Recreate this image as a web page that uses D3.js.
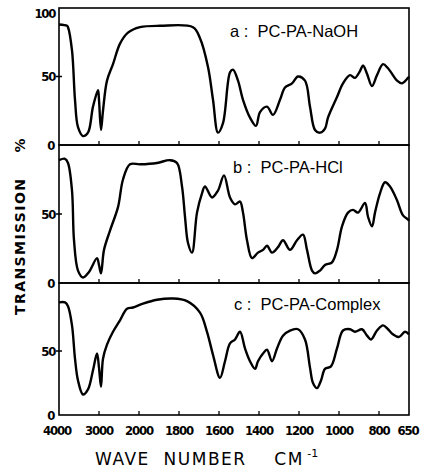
<!DOCTYPE html>
<html>
<head>
<meta charset="utf-8">
<script src="https://cdn.jsdelivr.net/npm/d3@7"></script>
<style>
  body { margin: 0; background: #fff; }
  svg { display: block; }
</style>
</head>
<body>
<svg id="chart"></svg>
<script>
// wave number ticks (cm-1) and transmission spectra
var xTicks = [4000, 3000, 2000, 1800, 1600, 1400, 1200, 1000, 800, 650];

var waveA = [4000, 3800, 3775, 3675, 3600, 3525, 3400, 3275, 3150, 3025, 3000, 2950, 2900, 2800, 2650, 2475, 2275, 1995, 1895, 1730, 1695, 1655, 1630, 1605, 1580, 1545, 1530, 1505, 1480, 1445, 1415, 1395, 1360, 1330, 1295, 1270, 1235, 1205, 1170, 1145, 1120, 1095, 1070, 1055, 1010, 980, 945, 920, 895, 880, 860, 835, 810, 780, 755, 710, 685, 655, 650];
var transA = [88, 87, 86, 69, 33, 13, 6.5, 9, 28, 40, 33, 11, 25, 47, 59, 74, 82, 86, 87, 86, 78, 57, 33, 9, 16, 53, 55, 47, 33, 20, 14, 24, 28, 22, 33, 42, 45, 50, 47, 28, 11, 9, 12, 20, 35, 45, 51, 49, 54, 58, 52, 43, 51, 59, 56, 47, 45, 49, 50];

var waveB = [4000, 3850, 3775, 3675, 3625, 3525, 3400, 3250, 3050, 3000, 2950, 2875, 2725, 2525, 2400, 2225, 1995, 1910, 1845, 1810, 1785, 1770, 1755, 1735, 1710, 1685, 1670, 1635, 1605, 1575, 1545, 1520, 1495, 1480, 1460, 1435, 1405, 1380, 1360, 1335, 1305, 1280, 1245, 1210, 1180, 1160, 1135, 1120, 1095, 1070, 1035, 1010, 985, 955, 930, 905, 870, 855, 835, 820, 795, 770, 745, 710, 680, 655, 650];
var transB = [89, 90, 87, 67, 31, 9, 4, 8, 18, 13, 7, 24, 38, 55, 75, 86, 86, 87, 89, 87, 70, 48, 29, 22, 51, 65, 70, 62, 67, 78, 62, 57, 59, 51, 31, 18, 22, 24, 27, 22, 26, 31, 24, 31, 35, 24, 9, 7, 9, 13, 15, 24, 41, 51, 53, 51, 58, 48, 41, 51, 65, 73, 70, 60, 49, 46, 45];

var waveC = [4000, 3850, 3775, 3675, 3600, 3525, 3400, 3275, 3150, 3050, 3000, 2950, 2900, 2800, 2650, 2475, 2300, 2150, 1980, 1910, 1830, 1760, 1695, 1660, 1630, 1595, 1570, 1545, 1520, 1495, 1470, 1445, 1420, 1405, 1380, 1360, 1335, 1310, 1280, 1245, 1205, 1170, 1145, 1130, 1110, 1090, 1070, 1040, 1010, 980, 945, 920, 885, 860, 840, 810, 780, 755, 730, 700, 670, 650];
var transC = [88, 88, 85, 70, 44, 27, 16, 20, 35, 48, 37, 22, 44, 55, 65, 74, 83, 84, 87, 90, 91, 89, 80, 65, 47, 29, 42, 56, 59, 65, 52, 42, 36, 42, 48, 51, 42, 52, 62, 66, 67, 59, 37, 25, 21, 27, 36, 38, 52, 66, 67, 65, 67, 62, 59, 66, 70, 67, 63, 61, 65, 63];

var panelNames = ["a :  PC-PA-NaOH", "b :  PC-PA-HCl", "c :  PC-PA-Complex"];

const W = 423, H = 469;
const left = 59, right = 409;

const svg = d3.select("#chart")
  .attr("width", W)
  .attr("height", H)
  .style("background", "#fff");

// IR charts switch scale at 2000 cm-1
const x = d3.scaleLinear()
  .domain([4000, 2000, 650])
  .range([left, 139, right]);

var panels = [
  { wave: waveA, trans: transA, top: 8, y0: 145, y100: 8, name: panelNames[0], lx: 230, ly: 37 },
  { wave: waveB, trans: transB, top: 145, y0: 283, y100: 145, name: panelNames[1], lx: 233, ly: 173 },
  { wave: waveC, trans: transC, top: 283, y0: 415, y100: 287, name: panelNames[2], lx: 234, ly: 310 }
];

const tickFont = "'DejaVu Sans Condensed', 'DejaVu Sans', sans-serif";

panels.forEach(function (p, k) {
  var y = d3.scaleLinear().domain([0, 100]).range([p.y0, p.y100]);
  var g = svg.append("g");

  // frame
  g.append("rect")
    .attr("x", left)
    .attr("y", p.top)
    .attr("width", right - left)
    .attr("height", p.y0 - p.top)
    .attr("fill", "none")
    .attr("stroke", "#000")
    .attr("stroke-width", 1.6);

  // bottom ticks pointing inward
  g.selectAll("line.xt")
    .data(xTicks.slice(1, -1))
    .enter().append("line")
    .attr("class", "xt")
    .attr("x1", d => x(d)).attr("x2", d => x(d))
    .attr("y1", p.y0).attr("y2", p.y0 - 4)
    .attr("stroke", "#000")
    .attr("stroke-width", 1.3);

  // y tick at 50
  g.append("line")
    .attr("x1", left - 3).attr("x2", left + 3)
    .attr("y1", y(50)).attr("y2", y(50))
    .attr("stroke", "#000")
    .attr("stroke-width", 1.5);

  var yLabels = k == 0 ? [100, 50, 0] : [50, 0];
  g.selectAll("text.yl")
    .data(yLabels)
    .enter().append("text")
    .attr("class", "yl")
    .attr("x", d => d == 0 ? 54 : 55)
    .attr("y", d => (d == 100 ? 13 : y(d)) + 4.5)
    .attr("text-anchor", "end")
    .attr("font-family", tickFont)
    .attr("font-weight", "bold")
    .attr("font-size", 13)
    .attr("letter-spacing", -1.3)
    .text(d => d);

  // spectrum
  var line = d3.line()
    .x(d => x(d[0]))
    .y(d => y(d[1]))
    .curve(d3.curveCatmullRom.alpha(0.5));

  g.append("path")
    .datum(d3.zip(p.wave, p.trans))
    .attr("d", line)
    .attr("fill", "none")
    .attr("stroke", "#000")
    .attr("stroke-width", 2.4)
    .attr("stroke-linejoin", "round");

  g.append("text")
    .attr("x", p.lx)
    .attr("y", p.ly)
    .attr("font-family", "'Liberation Sans', Arial, sans-serif")
    .attr("font-size", 16.5)
    .style("white-space", "pre")
    .text(p.name);
});

// x tick labels
svg.selectAll("text.xl")
  .data(xTicks)
  .enter().append("text")
  .attr("class", "xl")
  .attr("x", d => x(d) + (d == 4000 ? -2 : (d == 650 ? -1 : 0)))
  .attr("y", 435)
  .attr("text-anchor", "middle")
  .attr("font-family", tickFont)
  .attr("font-weight", "bold")
  .attr("font-size", 13)
  .attr("letter-spacing", -1.2)
  .text(d => d);

// axis titles
var xt = svg.append("text")
  .attr("x", 95)
  .attr("y", 465)
  .attr("font-family", "'DejaVu Sans', sans-serif")
  .attr("font-size", 17)
  .attr("letter-spacing", 1.5)
  .style("white-space", "pre")
  .text("WAVE  NUMBER    CM");
xt.append("tspan")
  .attr("dy", -8)
  .attr("font-size", 11)
  .attr("letter-spacing", 0)
  .text(" -1");

svg.append("text")
  .attr("transform", "translate(25,226) rotate(-90)")
  .attr("text-anchor", "middle")
  .attr("font-family", "'DejaVu Sans', sans-serif")
  .attr("font-weight", "bold")
  .attr("font-size", 14)
  .attr("letter-spacing", 1.4)
  .style("white-space", "pre")
  .text("TRANSMISSION    %");
</script>
</body>
</html>
